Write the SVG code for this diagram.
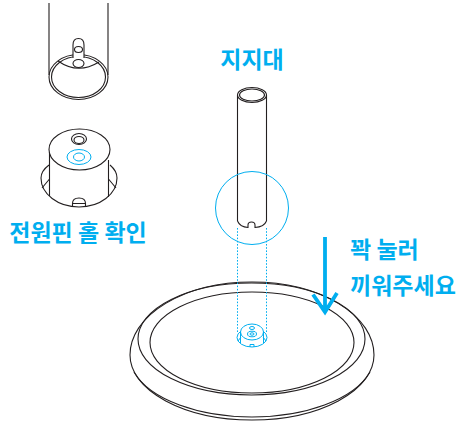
<svg xmlns="http://www.w3.org/2000/svg" width="466" height="422" viewBox="0 0 466 422">
<style>
.k{fill:none;stroke:#231f20;stroke-width:1.1}
.kw{fill:#fff;stroke:#231f20;stroke-width:1.1}
.b{fill:none;stroke:#00aeef;stroke-width:1}
.bw{fill:#fff;stroke:#00aeef;stroke-width:1}
.d{fill:none;stroke:#00aeef;stroke-width:1;stroke-dasharray:1.6 1.6}
.t{font-family:"Noto Sans CJK KR","Noto Sans",sans-serif;font-weight:700;fill:#00aeef;font-size:23px}
</style>
<g id="tube-detail">
<path class="k" d="M49 3V75M108 3V75"/>
<ellipse class="k" cx="78.500" cy="77" rx="29.500" ry="22.500"/>
<ellipse class="k" cx="78.500" cy="77" rx="27" ry="20.500"/>
<path class="k" d="M58 61Q78 75 99 62"/>
<path class="kw" d="M73 58V45Q73 38.500 78.500 38.500Q84 38.500 84 45V58"/>
<ellipse class="k" cx="78.500" cy="49.500" rx="4" ry="3"/>
<ellipse class="k" cx="78.500" cy="63.500" rx="5.500" ry="4"/>
</g>
<g id="socket-detail">
<path class="k" d="M49 165Q41 171 41 178A38 29 0 0 0 117 178Q117 171 110 165"/>
<path class="k" d="M49.500 152V196M108.500 160V197"/>
<path class="k" d="M42 188L49.500 179M116 188L108.500 179"/>
<ellipse class="kw" cx="79.500" cy="149.500" rx="30.500" ry="20.500"/>
<ellipse class="k" cx="79" cy="139" rx="7.500" ry="5.500"/>
<ellipse class="k" cx="79" cy="140" rx="5" ry="3.500"/>
<ellipse class="b" cx="79" cy="157" rx="12" ry="7.500"/>
<ellipse class="b" cx="79" cy="157" rx="5.500" ry="4"/>
<path class="k" d="M72.500 206V203.500Q72.500 198 79 198Q85.500 198 85.500 203.500V206M73 203.500H85"/>
</g>
<g id="pole">
<path class="k" d="M266.500 95V221" stroke-width="1.300"/>
<path class="k" d="M237.500 95V221" stroke-width="1.800"/>
<ellipse class="k" cx="252" cy="95" rx="14.500" ry="7.500" stroke-width="1.300"/>
<ellipse class="k" cx="252" cy="95" rx="12.500" ry="6"/>
<path class="k" d="M237.500 221Q240 227 248 227.500V225Q248 222 251.500 222Q255 222 255 225V227.500Q264 227 266.500 221"/>
<circle class="b" cx="252" cy="208" r="36.500" stroke-width="1.200"/>
</g>
<g id="base">
<path class="k" d="M130 355A122 73 0 0 1 374 355A122 65 0 0 1 130 355Z"/>
<path class="k" d="M134 372C150 400 200 417 252 417C304 417 354 400 370 372"/>
<ellipse class="k" cx="251.500" cy="339" rx="113.500" ry="56"/>
<ellipse class="k" cx="252" cy="342.500" rx="102" ry="50.500"/>
</g>
<g id="connectors">
<path class="d" d="M237.500 228V332M266.500 228V332"/>
</g>
<g id="socket-mini">
<ellipse class="b" cx="252" cy="337.500" rx="15" ry="9.500"/>
<ellipse class="bw" cx="252" cy="332" rx="11.500" ry="8"/>
<path class="b" d="M240.500 332V343M263.500 332V343M238 341L241 337M266 341L263 337"/>
<ellipse class="b" cx="252" cy="334" rx="4.500" ry="2.800"/>
<ellipse class="b" cx="252" cy="334" rx="2" ry="1.200"/>
<ellipse class="b" cx="252" cy="328" rx="2.500" ry="1.500"/>
<path class="b" d="M250 347V344.500H254V347"/>
</g>
<g id="push-arrow">
<path d="M325 237V312M313 294.500L325 312L337 293" fill="none" stroke="#00aeef" stroke-width="3.800"/>
</g>
<g id="labels">
<text class="t" x="252" y="68" text-anchor="middle">지지대</text>
<text class="t" x="78" y="241" text-anchor="middle">전원핀 홀 확인</text>
<text class="t" x="350" y="258">꽉 눌러</text>
<text class="t" x="350" y="294">끼워주세요</text>
</g>
</svg>
